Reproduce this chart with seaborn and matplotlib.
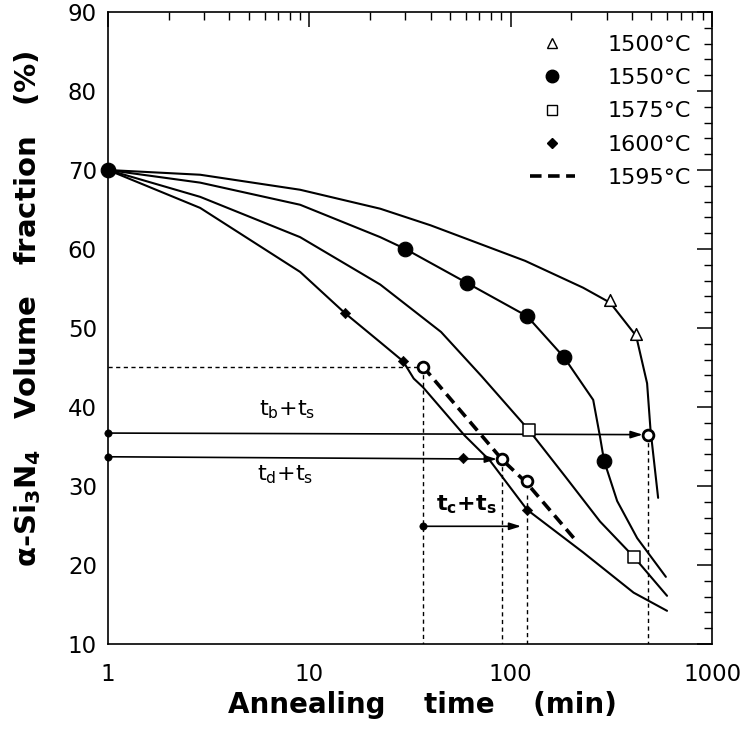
import matplotlib
matplotlib.use("Agg")
import matplotlib.pyplot as plt
from matplotlib.lines import Line2D
from matplotlib.ticker import MultipleLocator, FixedLocator, LogLocator, NullFormatter
import seaborn as sns

# ---- data ----
t_1500 = [1, 2.87, 9, 22.5, 40, 118, 229, 312, 420, 476, 495, 540]
v_1500 = [70, 69.4, 67.5, 65.1, 63.0, 58.5, 55.1, 53.2, 49.0, 43.0, 37.1, 28.5]

t_1550 = [1, 2.87, 9, 22.5, 30, 60.7, 120.6, 184, 257, 278, 291, 338, 425, 590]
v_1550 = [70, 68.4, 65.6, 61.5, 60.0, 55.7, 51.5, 46.3, 40.9, 36.2, 33.2, 28.1, 23.4, 18.5]

t_1575 = [1, 2.87, 9, 22.5, 45.1, 71.7, 123, 188, 278, 410, 598]
v_1575 = [70, 66.6, 61.5, 55.5, 49.5, 43.9, 37.1, 31.1, 25.5, 21.0, 16.1]

t_1600 = [1, 2.87, 9, 15, 22.5, 29.2, 33, 36.7, 59, 79, 120.6, 229, 408, 598]
v_1600 = [70, 65.2, 57.1, 51.9, 48.2, 45.8, 43.6, 42.5, 36.4, 33.2, 27.0, 21.6, 16.5, 14.2]

t_1595 = [36.7, 91, 120, 206]
v_1595 = [45.1, 33.3, 30.4, 23.4]

pts_1500_t = [312, 420]
pts_1500_v = [53.5, 49.2]
pts_1550_t = [1, 30, 60.7, 120.6, 184, 291]
pts_1550_v = [70, 60.0, 55.7, 51.5, 46.3, 33.2]
pts_1575_t = [123, 410]
pts_1575_v = [37.1, 21.0]
pts_1600_t = [15, 29.2, 58, 120.6]
pts_1600_v = [51.9, 45.8, 33.6, 27.0]
open_t = [36.7, 91, 120, 482]
open_v = [45.1, 33.4, 30.6, 36.5]

# construction lines
guide_h_y = 45.1
guide_h_x = [1, 36.7]
guide_v_x = [36.7, 91, 120, 482]
guide_v_top = [45.1, 33.4, 28.9, 36.5]

arrow_b = [(1, 36.7), (482, 36.5)]
arrow_d = [(1, 33.7), (91, 33.4)]
arrow_c = [(36.7, 24.9), (120, 24.9)]
arrow_starts_t = [1, 1, 36.7]
arrow_starts_v = [36.7, 33.7, 24.9]

labels_legend = ["1500°C", "1550°C", "1575°C", "1600°C", "1595°C"]
xtick_vals = [1, 10, 100, 1000]
xtick_labels = ["1", "10", "100", "1000"]
ytick_vals = [10, 20, 30, 40, 50, 60, 70, 80, 90]

# ---- style ----
sns.set_style("white")
K = "black"
plt.rcParams["font.family"] = ["DejaVu Sans"]
plt.rcParams["text.color"] = K
plt.rcParams["axes.labelcolor"] = K
plt.rcParams["xtick.color"] = K
plt.rcParams["ytick.color"] = K

fig = plt.figure(figsize=(7.52, 7.29), dpi=100)
ax = fig.add_axes([108 / 752, 1 - 644 / 729, 604 / 752, 632 / 729])

for tt, vv in [(t_1500, v_1500), (t_1550, v_1550), (t_1575, v_1575), (t_1600, v_1600)]:
    sns.lineplot(x=tt, y=vv, ax=ax, color=K, lw=1.5, sort=False, estimator=None)
sns.lineplot(x=t_1595, y=v_1595, ax=ax, color=K, lw=2.6, sort=False, estimator=None,
             linestyle=(0, (3.2, 1.8)))

# guide dashed lines
dash = (0, (3, 2.5))
sns.lineplot(x=guide_h_x, y=[guide_h_y, guide_h_y], ax=ax, color=K, lw=1.0,
             linestyle=dash, estimator=None)
for xv, top in zip(guide_v_x, guide_v_top):
    sns.lineplot(x=[xv, xv], y=[top, 10], ax=ax, color=K, lw=1.0, linestyle=dash,
                 estimator=None, sort=False)

# arrows
for (p0, p1) in [arrow_b, arrow_d, arrow_c]:
    ax.annotate("", xy=p1, xytext=p0,
                arrowprops=dict(arrowstyle="-|>,head_length=0.7,head_width=0.22",
                                color=K, lw=1.2, shrinkA=0, shrinkB=4))
sns.scatterplot(x=arrow_starts_t, y=arrow_starts_v, ax=ax, color=K, s=28,
                edgecolor=K, zorder=5, clip_on=False)

# markers
sns.scatterplot(x=pts_1500_t, y=pts_1500_v, ax=ax, marker="^", s=70, color="white",
                edgecolor=K, linewidth=1.1, zorder=6)
sns.scatterplot(x=pts_1550_t, y=pts_1550_v, ax=ax, marker="o", s=110, color=K,
                edgecolor=K, zorder=6, clip_on=False)
sns.scatterplot(x=pts_1575_t, y=pts_1575_v, ax=ax, marker="s", s=75, color="white",
                edgecolor=K, linewidth=1.1, zorder=6)
sns.scatterplot(x=pts_1600_t, y=pts_1600_v, ax=ax, marker="D", s=28, color=K,
                edgecolor=K, zorder=6)
sns.scatterplot(x=open_t, y=open_v, ax=ax, marker="o", s=60, color="white",
                edgecolor=K, linewidth=2.0, zorder=7)

# text annotations
ax.text(7.8, 39.6, r"t$_\mathrm{b}$+t$_\mathrm{s}$", fontsize=16, ha="center", va="center")
ax.text(7.6, 31.4, r"t$_\mathrm{d}$+t$_\mathrm{s}$", fontsize=16, ha="center", va="center")
ax.text(60, 27.6, r"t$_\mathbf{c}$+t$_\mathbf{s}$", fontsize=16, ha="center", va="center",
        fontweight="bold")

# axes
ax.set_xscale("log")
ax.set_xlim(1, 1000)
ax.set_ylim(10, 90)
ax.xaxis.set_major_locator(FixedLocator(xtick_vals))
ax.set_xticklabels(xtick_labels)
ax.xaxis.set_minor_locator(LogLocator(base=10, subs=range(2, 10)))
ax.xaxis.set_minor_formatter(NullFormatter())
ax.set_yticks(ytick_vals)
ax.yaxis.set_minor_locator(MultipleLocator(2))
ax.tick_params(which="both", direction="in", top=True, right=True, colors=K)
ax.tick_params(which="major", length=11, width=1.1, labelsize=16.5)
ax.tick_params(axis="x", which="major", pad=14)
ax.tick_params(axis="y", which="major", pad=8)
ax.tick_params(which="minor", length=6, width=1.0)
for s in ax.spines.values():
    s.set_linewidth(1.2)
    s.set_color(K)

ax.set_xlabel("Annealing    time    (min)", fontsize=20, fontweight="bold", color=K)
ax.set_ylabel(r"α-Si$_\mathbf{3}$N$_\mathbf{4}$   Volume   fraction   (%)",
              fontsize=21, fontweight="bold", color=K)
ax.xaxis.set_label_coords(0.52, -0.074)
ax.yaxis.set_label_coords(-0.108, 0.53)

# legend
handles = [
    Line2D([], [], ls="none", marker="^", ms=7, mfc="white", mec=K, mew=1.0),
    Line2D([], [], ls="none", marker="o", ms=9, mfc=K, mec=K),
    Line2D([], [], ls="none", marker="s", ms=7, mfc="white", mec=K, mew=1.0),
    Line2D([], [], ls="none", marker="D", ms=5, mfc=K, mec=K),
    Line2D([], [], color=K, lw=2.6, ls=(0, (3.2, 1.8))),
]
leg = ax.legend(handles, labels_legend, loc="upper left", bbox_to_anchor=(0.699, 0.964),
                frameon=False, fontsize=16, handlelength=2.0, handletextpad=1.5,
                labelspacing=0.6, borderpad=0, borderaxespad=0)
for txt in leg.get_texts():
    txt.set_color(K)

fig.savefig("out.png", dpi=100)
